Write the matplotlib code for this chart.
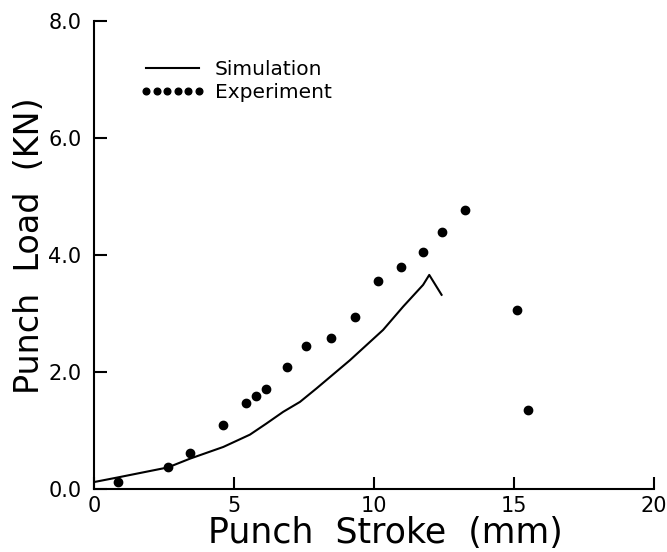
import matplotlib
matplotlib.use("Agg")
import matplotlib.pyplot as plt

# simulation curve (punch stroke mm, punch load kN)
sim_x = [0.0, 0.86, 2.64, 3.43, 4.62, 5.57, 6.16, 6.76, 7.36, 7.95,
         9.14, 10.33, 11.05, 11.76, 11.98, 12.42]
sim_y = [0.12, 0.2, 0.37, 0.52, 0.72, 0.93, 1.12, 1.32, 1.49, 1.72,
         2.20, 2.72, 3.12, 3.49, 3.66, 3.32]

# experiment points
exp_x = [0.86, 2.64, 3.43, 4.61, 5.43, 5.79, 6.14, 6.89, 7.57, 8.46,
         9.32, 10.14, 10.96, 11.75, 12.43, 13.25, 15.1, 15.5]
exp_y = [0.12, 0.38, 0.62, 1.09, 1.47, 1.59, 1.71, 2.09, 2.44, 2.58,
         2.94, 3.56, 3.79, 4.05, 4.39, 4.77, 3.06, 1.35]

xticks = [0, 5, 10, 15, 20]
yticks = [0.0, 2.0, 4.0, 6.0, 8.0]

fig = plt.figure(figsize=(6.67, 5.52), dpi=100)
ax = fig.add_axes([0.141, 0.114, 0.839, 0.848])

ax.plot(sim_x, sim_y, color='k', lw=1.5, label='Simulation')
ax.plot(exp_x, exp_y, 'o', color='k', ms=6, ls='none', label='Experiment')

ax.set_xlim(0, 20)
ax.set_ylim(0, 8)
ax.set_xticks(xticks)
ax.set_yticks(yticks)
ax.set_yticklabels(['%.1f' % v for v in yticks])
ax.spines['top'].set_visible(False)
ax.spines['right'].set_visible(False)
ax.spines['left'].set_linewidth(1.5)
ax.spines['bottom'].set_linewidth(1.5)
ax.tick_params(direction='in', length=9, width=1.5, labelsize=15)
ax.tick_params(axis='y', pad=9)
ax.tick_params(axis='x', pad=5)

ax.set_xlabel('Punch  Stroke  (mm)', fontsize=25, labelpad=0)
ax.set_ylabel('Punch  Load  (KN)', fontsize=24, labelpad=2)
ax.xaxis.label.set_x(0.521)
ax.yaxis.label.set_y(0.52)

ax.legend(loc='upper left', bbox_to_anchor=(0.05, 0.955), frameon=False,
          numpoints=6, handlelength=3.2, fontsize=14.5, labelspacing=0.2,
          handletextpad=0.5, markerscale=0.8)

fig.savefig('out.png', dpi=100)
